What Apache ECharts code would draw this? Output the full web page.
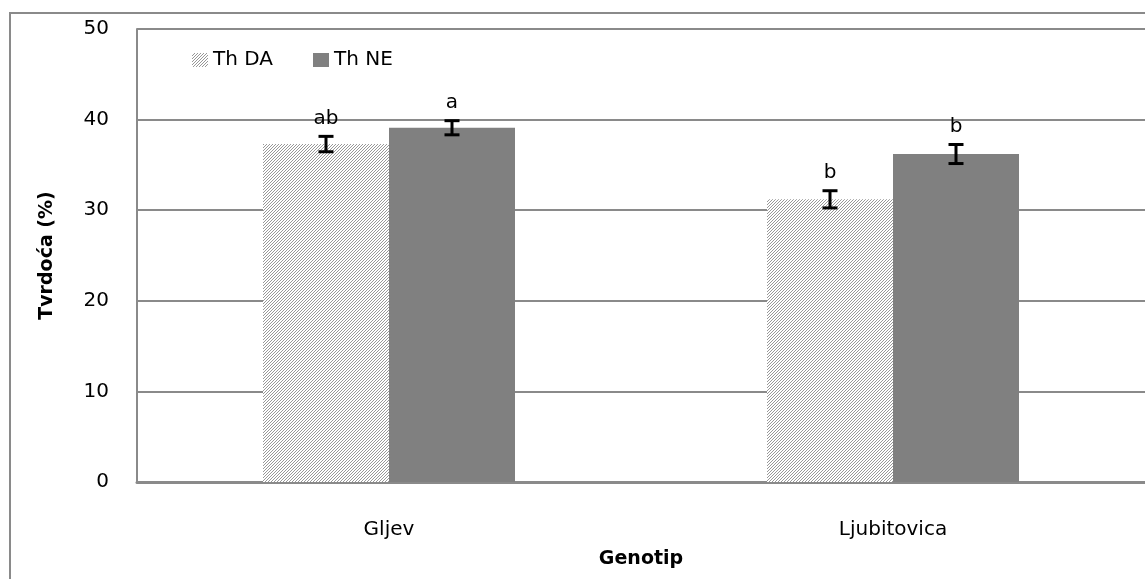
<!DOCTYPE html>
<html>
<head>
<meta charset="utf-8">
<script src="https://cdn.jsdelivr.net/npm/echarts@6/dist/echarts.min.js"></script>
<style>
html,body{margin:0;padding:0;background:#fff;}
#chart{width:1145px;height:579px;}
</style>
</head>
<body>
<div id="chart"></div>
<script>
const categories = ['Gljev', 'Ljubitovica'];
const seriesNames = ['Th DA', 'Th NE'];
const thDA = [37.3, 31.2];
const thNE = [39.1, 36.2];
const errDA = [0.85, 0.95];
const errNE = [0.78, 1.05];
const lettersDA = ['ab', 'b'];
const lettersNE = ['a', 'b'];
const yTicks = [0, 10, 20, 30, 40, 50];

const FONT = 'DejaVu Sans';
const FS = 20;
const GRID = '#8a8a8a';

// hatch pattern ///
const pc = document.createElement('canvas');
pc.width = 3; pc.height = 3;
const ctx = pc.getContext('2d');
ctx.fillStyle = '#ffffff';
ctx.fillRect(0, 0, 3, 3);
ctx.strokeStyle = '#8c8c8c';
ctx.lineWidth = 0.9;
ctx.beginPath();
ctx.moveTo(-1, 4); ctx.lineTo(4, -1);
ctx.moveTo(-4, 4); ctx.lineTo(4, -4);
ctx.moveTo(-1, 7); ctx.lineTo(7, -1);
ctx.stroke();
const hatch = { image: pc, repeat: 'repeat' };

function errSeries(vals, errs, letters, sign) {
  return {
    type: 'custom',
    silent: true,
    z: 10,
    data: vals.map((v, i) => [i, v, errs[i]]),
    renderItem: function (params, api) {
      const idx = api.value(0);
      const v = api.value(1);
      const e = api.value(2);
      const bw = api.size([1, 0])[0];
      const c = api.coord([idx, v]);
      const x = c[0] + sign * bw * 0.125;
      const top = api.coord([idx, v + e])[1];
      const bot = api.coord([idx, v - e])[1];
      const hw = 7.5;
      const st = { stroke: '#000', lineWidth: 3 };
      return {
        type: 'group',
        children: [
          { type: 'line', shape: { x1: x, y1: top, x2: x, y2: bot }, style: st },
          { type: 'line', shape: { x1: x - hw, y1: top, x2: x + hw, y2: top }, style: st },
          { type: 'line', shape: { x1: x - hw, y1: bot, x2: x + hw, y2: bot }, style: st },
          { type: 'text', x: x, y: top - 8,
            style: { text: letters[idx], fill: '#000', font: FS + 'px "' + FONT + '"', align: 'center', verticalAlign: 'bottom' } }
        ]
      };
    }
  };
}

const chart = echarts.init(document.getElementById('chart'), null, { renderer: 'canvas' });
chart.setOption({
  animation: false,
  backgroundColor: '#fff',
  textStyle: { fontFamily: FONT },
  graphic: [{
    type: 'rect',
    shape: { x: 10, y: 13, width: 1200, height: 650 },
    style: { fill: 'none', stroke: GRID, lineWidth: 2 },
    silent: true, z: -10
  }],
  legend: {
    left: 187, top: 45,
    icon: 'rect',
    itemWidth: 16, itemHeight: 14, itemGap: 40,
    textStyle: { fontSize: FS, color: '#000', fontFamily: FONT },
    data: seriesNames
  },
  grid: { left: 137, top: 29, width: 1014, bottom: 97, containLabel: false },
  xAxis: {
    type: 'category',
    data: categories,
    axisLine: { lineStyle: { color: GRID, width: 3 } },
    axisTick: { show: false },
    axisLabel: { fontSize: FS, color: '#000', margin: 38, fontFamily: FONT },
    name: 'Genotip',
    nameLocation: 'middle',
    nameGap: 68,
    nameTextStyle: { fontSize: 19, fontWeight: 'bold', color: '#000', fontFamily: FONT },
    splitLine: { show: false }
  },
  yAxis: {
    type: 'value',
    min: 0, max: 50, interval: 10,
    axisLine: { show: true, lineStyle: { color: GRID, width: 2 } },
    axisTick: { show: false },
    axisLabel: { fontSize: FS, color: '#000', margin: 28, fontFamily: FONT,
      formatter: v => yTicks.includes(v) ? String(v) : '' },
    splitLine: { lineStyle: { color: GRID, width: 2 } },
    name: 'Tvrdoća (%)',
    nameLocation: 'middle',
    nameGap: 80,
    nameTextStyle: { fontSize: 19, fontWeight: 'bold', color: '#000', fontFamily: FONT }
  },
  series: [
    { name: seriesNames[0], type: 'bar', data: thDA, barWidth: '25%', barGap: '0%',
      itemStyle: { color: hatch } },
    { name: seriesNames[1], type: 'bar', data: thNE, barWidth: '25%', barGap: '0%',
      itemStyle: { color: '#808080' } },
    errSeries(thDA, errDA, lettersDA, -1),
    errSeries(thNE, errNE, lettersNE, 1)
  ]
});
</script>
</body>
</html>
